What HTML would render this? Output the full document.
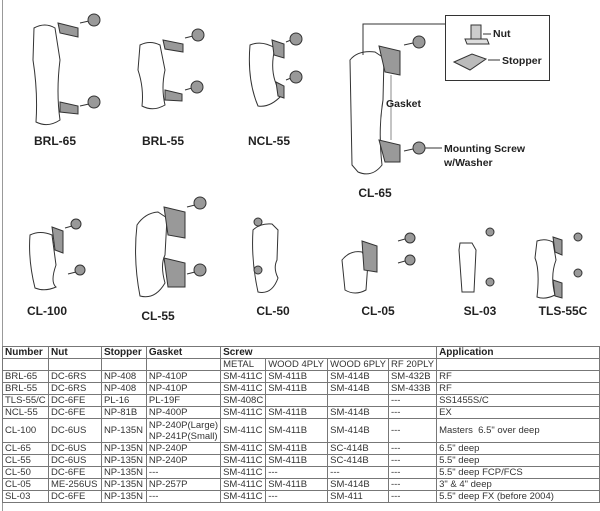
<!DOCTYPE html>
<html><head><meta charset="utf-8"><style>
body{margin:0;background:#fff;width:600px;height:511px;overflow:hidden;font-family:"Liberation Sans",Arial,sans-serif}
svg{position:absolute;left:0;top:0}
table{position:absolute;left:2px;top:346px;border-collapse:collapse;font-size:9.5px;color:#333;table-layout:fixed}
td{border:1px solid #777;padding:0 2px;height:11px;line-height:11px;white-space:nowrap;overflow:hidden}
tr.h td{font-weight:bold;color:#222;font-size:10px;height:11px}
</style></head><body>
<svg width="600" height="511" viewBox="0 0 600 511" font-family="Liberation Sans, Arial, sans-serif">
<line x1="2.5" y1="0" x2="2.5" y2="511" stroke="#999" stroke-width="1"/>
<g stroke="#333" stroke-width="1" fill="#fff">
<path d="M34 28 Q45 22 55 28 L60 60 Q56 92 60 120 Q48 128 36 122 Q38 92 33 60 Z"/>
<path d="M58 23 L78 28 L78 37 L60 33 Z" fill="#999"/>
<path d="M60 102 L78 106 L78 114 L60 112 Z" fill="#999"/>
<line x1="80" y1="23" x2="89" y2="21"/><circle cx="94" cy="20" r="6" fill="#999"/>
<line x1="80" y1="106" x2="89" y2="104"/><circle cx="94" cy="102" r="6" fill="#999"/>
<path d="M140 45 Q150 40 160 45 L165 70 Q161 88 165 105 Q153 112 142 106 Q144 88 138 70 Z"/>
<path d="M163 40 L183 44 L183 52 L165 49 Z" fill="#999"/>
<path d="M165 90 L182 94 L182 101 L165 100 Z" fill="#999"/>
<line x1="185" y1="38" x2="193" y2="36"/><circle cx="198" cy="35" r="6" fill="#999"/>
<line x1="185" y1="90" x2="192" y2="88"/><circle cx="197" cy="87" r="6" fill="#999"/>
<path d="M250 45 Q262 40 275 48 Q268 75 282 95 Q270 108 258 106 Q247 80 250 45 Z"/>
<path d="M272 40 L284 44 L284 58 L274 55 Z" fill="#999"/>
<path d="M276 82 L284 86 L284 98 L278 96 Z" fill="#999"/>
<line x1="286" y1="42" x2="291" y2="40"/><circle cx="296" cy="39" r="6" fill="#999"/>
<line x1="286" y1="80" x2="291" y2="78"/><circle cx="296" cy="77" r="6" fill="#999"/>
<path d="M350 60 Q358 50 375 52 L384 58 L383 100 Q378 130 382 165 Q372 178 358 172 L352 165 Z"/>
<path d="M379 46 L400 51 L400 75 L385 72 Z" fill="#999"/>
<path d="M379 140 L400 145 L400 162 L385 162 Z" fill="#999"/>
<line x1="404" y1="45" x2="413" y2="43"/><circle cx="419" cy="42" r="6" fill="#999"/>
<line x1="404" y1="151" x2="413" y2="149"/><circle cx="419" cy="148" r="6" fill="#999"/>
<line x1="391" y1="75" x2="391" y2="140" stroke="#888"/>
<rect x="445.5" y="15.5" width="104" height="65" fill="none"/>
<polyline points="445,24 363,24 363,55" fill="none"/>
<rect x="471" y="25" width="10" height="14" fill="#ccc"/>
<path d="M465 39 L487 39 L489 44 L467 44 Z" fill="#ddd"/>
<path d="M454 62 L472 54 L486 59 L470 70 Z" fill="#bbb"/>
<line x1="483" y1="34" x2="491" y2="34"/><line x1="488" y1="60" x2="500" y2="60"/>
<line x1="425" y1="148" x2="442" y2="148"/>
<path d="M30 235 Q40 230 52 235 L56 265 Q50 282 56 287 Q45 292 35 288 Q28 260 30 235 Z"/>
<path d="M52 227 L63 231 L63 253 L55 250 Z" fill="#999"/>
<line x1="65" y1="228" x2="72" y2="226"/><circle cx="76" cy="224" r="5" fill="#999"/>
<line x1="68" y1="274" x2="76" y2="272"/><circle cx="80" cy="270" r="5" fill="#999"/>
<path d="M137 225 Q145 213 158 212 L167 218 L165 255 Q160 265 165 283 Q155 300 140 296 Q133 260 137 225 Z"/>
<path d="M164 207 L185 212 L185 238 L168 235 Z" fill="#999"/>
<path d="M164 258 L185 263 L185 287 L168 287 Z" fill="#999"/>
<line x1="187" y1="207" x2="195" y2="205"/><circle cx="200" cy="203" r="6" fill="#999"/>
<line x1="187" y1="274" x2="195" y2="272"/><circle cx="200" cy="270" r="6" fill="#999"/>
<path d="M253 230 Q260 223 272 224 L278 230 L277 260 Q273 268 278 278 Q272 295 258 292 Q251 260 253 230 Z"/>
<circle cx="258" cy="222" r="4" fill="#999"/><circle cx="258" cy="270" r="4" fill="#999"/>
<path d="M342 260 Q350 250 362 252 L368 262 L366 290 Q355 296 345 290 Z"/>
<path d="M362 241 L377 246 L377 272 L364 270 Z" fill="#999"/>
<line x1="398" y1="241" x2="405" y2="239"/><circle cx="410" cy="238" r="5" fill="#999"/>
<line x1="398" y1="263" x2="405" y2="261"/><circle cx="410" cy="260" r="5" fill="#999"/>
<path d="M460 243 L472 243 L476 250 L474 292 L462 292 L459 250 Z"/>
<circle cx="490" cy="232" r="4" fill="#999"/><circle cx="490" cy="282" r="4" fill="#999"/>
<path d="M537 241 Q545 238 553 242 L556 260 Q550 276 555 295 Q545 300 537 297 Q540 270 535 258 Z"/>
<path d="M553 237 L562 240 L562 255 L555 252 Z" fill="#999"/>
<path d="M553 280 L562 283 L562 298 L555 296 Z" fill="#999"/>
<circle cx="578" cy="237" r="4" fill="#999"/><circle cx="578" cy="273" r="4" fill="#999"/>
</g>
<g font-weight="bold" font-size="12" fill="#222" text-anchor="middle">
<text x="55" y="145">BRL-65</text><text x="163" y="145">BRL-55</text><text x="269" y="145">NCL-55</text>
<text x="375" y="197">CL-65</text>
<text x="47" y="315">CL-100</text><text x="158" y="320">CL-55</text><text x="273" y="315">CL-50</text>
<text x="378" y="315">CL-05</text><text x="480" y="315">SL-03</text><text x="563" y="315">TLS-55C</text>
</g>
<g font-weight="bold" font-size="10.5" fill="#222">
<text x="386" y="107">Gasket</text><text x="444" y="152">Mounting Screw</text><text x="444" y="166">w/Washer</text>
<text x="493" y="37">Nut</text><text x="502" y="64">Stopper</text>
</g>
</svg>
<table>
<colgroup><col style="width:46px"><col style="width:53px"><col style="width:45px"><col style="width:74px"><col style="width:45px"><col style="width:62px"><col style="width:59px"><col style="width:48px"><col style="width:164px"></colgroup>
<tr class="h"><td>Number</td><td>Nut</td><td>Stopper</td><td>Gasket</td><td colspan="4">Screw</td><td>Application</td></tr>
<tr><td></td><td></td><td></td><td></td><td>METAL</td><td>WOOD 4PLY</td><td>WOOD 6PLY</td><td>RF 20PLY</td><td></td></tr>
<tr><td>BRL-65</td><td>DC-6RS</td><td>NP-408</td><td>NP-410P</td><td>SM-411C</td><td>SM-411B</td><td>SM-414B</td><td>SM-432B</td><td>RF</td></tr>
<tr><td>BRL-55</td><td>DC-6RS</td><td>NP-408</td><td>NP-410P</td><td>SM-411C</td><td>SM-411B</td><td>SM-414B</td><td>SM-433B</td><td>RF</td></tr>
<tr><td>TLS-55/C</td><td>DC-6FE</td><td>PL-16</td><td>PL-19F</td><td>SM-408C</td><td></td><td></td><td>---</td><td>SS1455S/C</td></tr>
<tr><td>NCL-55</td><td>DC-6FE</td><td>NP-81B</td><td>NP-400P</td><td>SM-411C</td><td>SM-411B</td><td>SM-414B</td><td>---</td><td>EX</td></tr>
<tr><td style="height:23px">CL-100</td><td>DC-6US</td><td>NP-135N</td><td>NP-240P(Large)<br>NP-241P(Small)</td><td>SM-411C</td><td>SM-411B</td><td>SM-414B</td><td>---</td><td>Masters&nbsp; 6.5" over deep</td></tr>
<tr><td>CL-65</td><td>DC-6US</td><td>NP-135N</td><td>NP-240P</td><td>SM-411C</td><td>SM-411B</td><td>SC-414B</td><td>---</td><td>6.5" deep</td></tr>
<tr><td>CL-55</td><td>DC-6US</td><td>NP-135N</td><td>NP-240P</td><td>SM-411C</td><td>SM-411B</td><td>SC-414B</td><td>---</td><td>5.5" deep</td></tr>
<tr><td>CL-50</td><td>DC-6FE</td><td>NP-135N</td><td>---</td><td>SM-411C</td><td>---</td><td>---</td><td>---</td><td>5.5" deep FCP/FCS</td></tr>
<tr><td>CL-05</td><td>ME-256US</td><td>NP-135N</td><td>NP-257P</td><td>SM-411C</td><td>SM-411B</td><td>SM-414B</td><td>---</td><td>3" &amp; 4" deep</td></tr>
<tr><td>SL-03</td><td>DC-6FE</td><td>NP-135N</td><td>---</td><td>SM-411C</td><td>---</td><td>SM-411</td><td>---</td><td>5.5" deep FX (before 2004)</td></tr>
</table>
</body></html>
